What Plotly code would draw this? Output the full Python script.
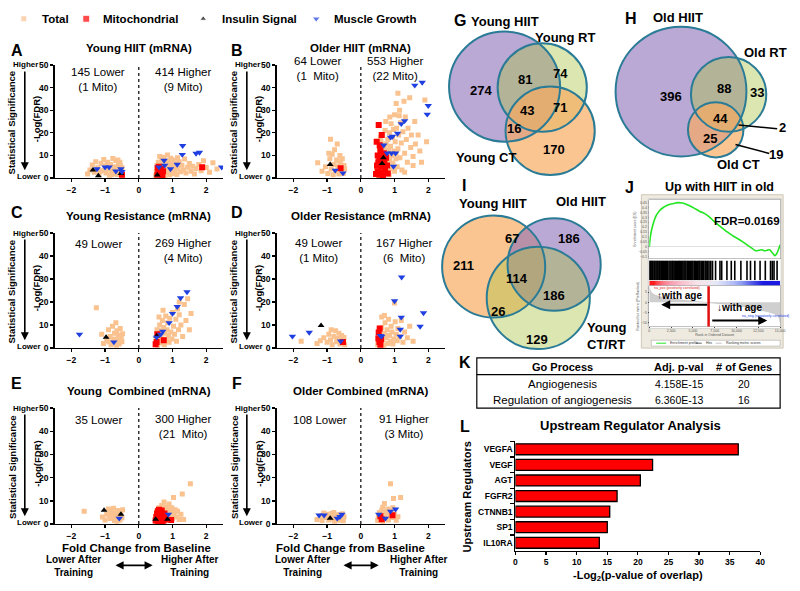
import plotly.graph_objects as go

W, H = 800, 591
FONT = "Liberation Sans, Arial, Helvetica, sans-serif"

# ---------------- scatter data: (fold change, -log FDR) ----------------
A_total = [(-1.52,1.8),(-1.45,3.5),(-1.38,5.8),(-1.32,2.5),(-1.28,7.2),(-1.22,4.5),(-1.18,1.5),(-1.12,6.5),(-1.08,3.2),(-1.04,8.2),
           (-1.0,5.2),(-0.97,2.2),(-0.93,7.0),(-0.9,4.0),(-0.87,1.2),(-0.84,6.0),(-0.8,3.0),(-0.77,8.6),(-0.74,5.0),(-0.71,2.0),
           (-0.68,7.8),(-0.66,4.2),(-0.63,1.6),(-0.6,6.2),(-0.58,3.4),(-0.55,5.5),(-0.52,2.4),(-0.5,4.6),(-0.48,1.2),(-0.62,8.0),
           (-0.95,5.8),(-1.15,3.0),(-0.8,1.5),(-0.7,3.6),(-0.56,7.0),
           (0.5,1.0),(0.52,3.0),(0.54,5.5),(0.56,2.0),(0.58,7.0),(0.6,4.0),(0.62,1.5),(0.64,6.0),(0.66,3.0),(0.68,8.0),
           (0.7,2.2),(0.72,5.0),(0.74,9.2),(0.76,3.5),(0.78,1.2),(0.8,6.5),(0.82,4.5),(0.84,2.5),(0.86,7.5),(0.88,5.5),
           (0.9,3.0),(0.92,1.5),(0.95,6.0),(0.98,4.0),(1.0,8.0),(1.02,2.0),(1.05,5.0),(1.08,3.2),(1.1,6.8),(1.13,1.6),
           (1.16,4.4),(1.2,7.2),(1.24,2.8),(1.28,5.6),(1.32,3.6),(1.36,8.4),(1.4,2.2),(1.45,4.8),(1.5,6.4),(1.55,3.0),
           (1.6,5.2),(1.65,1.8),(1.7,4.2),(1.78,6.0),(1.85,3.2),(1.92,7.6),(2.0,4.6),(2.1,2.6),(2.2,6.8),(2.32,4.0),
           (0.62,9.5),(0.85,10.2),(1.15,9.0),(0.7,6.8),(0.95,8.8)]
A_mito = [(-0.5,1.5),(0.55,1.5),(0.58,3.2),(0.6,5.0),(0.63,2.2),(0.66,4.0),(0.7,1.0),(0.72,3.0),(0.56,4.5),(1.88,4.8)]
A_ins = [(-1.36,3.5),(-1.2,1.0),(-0.53,2.0),(0.55,1.3)]
A_mus = [(-1.24,4.0),(-1.0,4.8),(-0.88,4.8),(-0.68,3.0),(-0.53,4.0),(-0.5,2.8),(0.6,4.8),(0.75,7.8),(0.77,5.6),(0.94,4.0),
         (1.14,6.0),(1.29,10.4),(1.3,14.3),(1.7,10.9),(1.8,11.3),(2.46,4.8)]

B_total = [(-1.28,6.8),(-1.15,3.0),(-1.05,5.0),(-0.98,2.0),(-0.92,8.5),(-0.9,17.2),(-0.88,4.0),(-0.85,10.5),(-0.82,1.5),(-0.8,6.0),
           (-0.78,12.5),(-0.75,3.0),(-0.72,8.0),(-0.7,15.0),(-0.68,5.0),(-0.65,1.8),(-0.62,10.0),(-0.6,6.8),(-0.58,3.5),(-0.55,8.5),
           (-0.52,2.0),(-0.5,5.5),(-0.48,4.0),(-0.95,11.0),(-0.66,7.5),
           (0.45,1.5),(0.48,4),(0.5,7),(0.5,2.5),(0.52,10),(0.54,5),(0.55,13),(0.56,1.2),(0.58,8),(0.6,3.5),
           (0.6,16),(0.62,11),(0.64,6),(0.65,19),(0.66,2),(0.68,9),(0.7,13.5),(0.7,4.5),(0.72,21),(0.74,7),
           (0.75,15),(0.76,2.8),(0.78,10.5),(0.8,17),(0.8,5.5),(0.82,12.5),(0.84,1.5),(0.85,20),(0.86,8),(0.88,14),
           (0.9,4),(0.9,24),(0.92,10),(0.94,18),(0.95,6.5),(0.97,21.5),(0.98,12),(1.0,3),(1.0,28),(1.02,16),
           (1.04,8.5),(1.05,33),(1.06,22),(1.08,5),(1.1,37.5),(1.1,13),(1.12,19),(1.15,30),(1.16,9),(1.18,24.5),
           (1.2,15.5),(1.22,3.5),(1.25,20.5),(1.28,34),(1.3,11),(1.32,27),(1.35,17),(1.38,7),(1.4,22),(1.45,35.5),
           (1.48,13.5),(1.5,19),(1.55,9.5),(1.6,25),(1.62,15),(1.7,19),(1.75,12),(1.8,7),(1.9,34.5),(1.95,16),
           (0.66,14.5),(0.58,18),(0.74,25),(0.86,27),(1.14,27.5),(1.3,2.5),(1.55,5.5),(1.05,11)]
B_mito = [(-0.6,4.3),(0.53,23.5),(0.47,16),(0.5,10),(0.52,7),(0.48,5.5),(0.5,3),(0.55,1.5),(0.58,12),(0.6,8.5),(0.62,5),
          (0.65,2.2),(0.56,14.5),(0.68,11),(0.7,7),(0.72,3.5),(0.75,9),(0.78,5.5),(0.8,2),(0.62,19),(0.55,9),(0.66,1.2),(0.45,1.8)]
B_ins = [(-0.91,6.0),(0.67,9.0),(0.63,6.4)]
B_mus = [(-0.76,3.4),(-0.53,2.2),(1.6,41),(1.82,42.3),(2.0,32),(1.97,28.2),(1.3,25.3),(1.2,24),(1.09,19.7),(0.94,18.4),
         (0.88,18),(1.03,11),(0.91,11),(0.78,11),(0.97,5.1),(0.68,14.5)]

C_total = [(-1.26,17.5),(-1.1,6.0),(-1.05,2.0),(-0.95,3.2),(-0.9,8.0),(-0.85,5.0),(-0.82,1.5),(-0.78,9.5),(-0.75,4.0),(-0.72,6.5),
           (-0.7,2.5),(-0.68,11.0),(-0.65,7.5),(-0.62,3.5),(-0.6,5.5),(-0.58,1.8),(-0.55,8.5),(-0.52,4.5),(-0.5,2.8),(-0.48,6.2),
           (-0.88,2.6),(-0.66,1.2),
           (0.5,2.0),(0.52,4.5),(0.54,8.0),(0.56,1.2),(0.58,6.0),(0.6,3.0),(0.62,10.0),(0.64,5.0),(0.66,2.2),(0.68,7.5),
           (0.7,12.0),(0.72,4.0),(0.74,9.0),(0.76,1.5),(0.78,6.5),(0.8,14.0),(0.82,3.5),(0.84,8.0),(0.86,11.0),(0.88,5.5),
           (0.9,2.5),(0.92,13.0),(0.95,7.0),(0.98,4.0),(1.0,15.5),(1.03,9.5),(1.06,6.0),(1.1,12.5),(1.12,3.0),(1.15,17.0),
           (1.18,8.0),(1.2,14.5),(1.25,10.0),(1.3,5.0),(1.35,19.0),(1.4,12.0),(1.45,21.5),(1.5,8.0),(1.55,15.0),(0.72,16.5),
           (0.6,13.5),(1.2,20.0)]
C_mito = [(0.55,6.0),(0.53,2.6),(0.74,3.4),(0.5,1.7)]
C_ins = [(-0.97,4.7),(0.53,5.3)]
C_mus = [(1.43,24.4),(1.24,21.8),(1.14,18.0),(1.0,15.0),(0.9,11.0),(0.71,7.3),(0.65,6.0),(0.53,4.7),(-1.76,6.0),(-0.74,2.6)]

D_total = [(-1.77,3.0),(-1.3,2.0),(-1.1,4.5),(-1.0,2.5),(-0.95,6.0),(-0.9,3.5),(-0.85,1.5),(-0.8,5.0),(-0.75,7.5),(-0.72,2.8),
           (-0.68,4.2),(-0.65,6.5),(-0.62,1.8),(-0.6,3.8),(-0.57,5.5),(-0.54,2.4),(-0.5,4.6),(-0.48,1.4),(-1.2,3.2),(-0.88,8.0),
           (0.5,1.5),(0.52,4.0),(0.55,7.0),(0.58,2.5),(0.6,5.5),(0.62,9.0),(0.65,3.5),(0.68,1.2),(0.7,6.5),(0.72,11.0),
           (0.75,4.5),(0.78,8.0),(0.8,2.0),(0.82,12.5),(0.85,5.5),(0.88,3.0),(0.9,9.5),(0.92,7.0),(0.95,1.8),(0.98,4.0),
           (1.0,19.6),(1.02,11.5),(1.05,6.0),(1.08,3.2),(1.1,8.5),(1.15,5.0),(1.2,12.0),(1.25,2.5),(1.3,7.0),(1.38,4.5),
           (1.45,9.5),(1.55,3.0),(0.62,13.5),(0.7,14.2)]
D_mito = [(-0.53,2.6),(0.53,6.8),(0.55,2.6),(0.52,4.2),(0.58,1.5),(0.6,3.8),(0.56,8.5)]
D_ins = [(-1.18,9.8)]
D_mus = [(1.21,30.8),(1.0,20.5),(1.2,13.4),(1.86,15.3),(1.76,9.4),(1.17,8.1),(0.62,5.1),(1.17,5.1),(0.58,5.4),
         (-2.03,5.1),(-1.53,6.8),(-0.6,3.0)]

E_total = [(-1.62,5.5),(-1.08,3.0),(-1.0,1.8),(-0.95,4.2),(-0.9,6.5),(-0.86,2.4),(-0.82,5.0),(-0.78,3.4),(-0.75,6.8),(-0.72,1.5),
           (-0.7,4.6),(-0.66,2.8),(-0.62,5.8),(-0.6,3.8),(-0.56,1.6),(-0.53,4.8),(-0.5,2.6),(-0.48,6.2),(-0.85,3.8),(-0.65,1.2),
           (0.5,1.2),(0.52,3.5),(0.54,6.0),(0.56,2.2),(0.58,4.5),(0.6,7.0),(0.62,1.5),(0.64,3.0),(0.66,5.5),(0.68,8.0),
           (0.7,2.5),(0.72,4.2),(0.74,6.5),(0.76,1.8),(0.78,3.5),(0.8,5.8),(0.82,7.5),(0.84,2.8),(0.86,4.8),(0.88,6.8),
           (0.9,1.6),(0.92,3.8),(0.95,5.2),(0.98,7.0),(1.0,2.5),(1.03,11.4),(1.05,4.5),(1.08,6.2),(1.12,3.0),(1.15,5.5),
           (1.2,2.0),(1.29,13.0),(1.33,2.0),(1.53,17.4),(1.25,4.2),(0.75,9.5),(0.9,8.6)]
E_mito = [(0.5,1.5),(0.52,3.0),(0.54,4.5),(0.55,2.2),(0.57,5.5),(0.58,1.2),(0.6,3.6),(0.62,2.5),(0.63,4.8),(0.65,1.6),
          (0.66,3.2),(0.68,5.8),(0.7,2.4),(0.71,4.0),(0.73,1.4),(0.74,3.0),(0.76,4.6),(0.78,2.0),(0.6,6.2),(0.68,0.9),(0.96,1.7)]
E_ins = [(-1.03,5.9),(-0.53,4.2),(0.5,2.1),(0.85,2.1)]
E_mus = [(-0.58,2.5),(0.88,4.2)]

F_total = [(-1.3,2.0),(-1.2,3.5),(-1.15,1.5),(-1.05,2.8),(-1.0,4.2),(-0.95,1.8),(-0.9,3.2),(-0.86,4.5),(-0.82,2.2),(-0.78,1.2),
           (-0.75,3.6),(-0.72,2.6),(-0.68,4.0),(-0.65,1.6),(-0.62,3.0),(-0.58,2.0),(-0.55,4.4),(-0.52,1.4),(-0.5,3.2),(-1.1,4.8),
           (-0.8,5.0),
           (0.5,1.5),(0.52,3.0),(0.55,5.0),(0.58,2.2),(0.6,4.0),(0.62,6.0),(0.65,1.2),(0.68,3.5),(0.7,8.9),(0.72,5.2),
           (0.75,2.5),(0.78,4.5),(0.8,6.5),(0.82,1.8),(0.85,3.8),(0.88,17.4),(0.9,5.5),(0.93,2.8),(0.97,11.0),(1.0,4.2),
           (1.05,1.6),(1.1,3.2),(1.18,11.4),(0.65,7.2),(0.95,7.0)]
F_mito = [(0.58,3.4),(0.94,3.8),(0.62,2.1)]
F_ins = [(-0.91,2.5)]
F_mus = [(-1.24,3.8),(-1.09,3.8),(-0.7,2.5),(-0.56,4.2),(-0.62,3.2),(0.53,4.2),(0.88,5.5),(1.03,6.4),(0.73,2.5)]

panel_titles = ["Young HIIT (mRNA)", "Older HIIT (mRNA)", "Young Resistance (mRNA)",
                "Older Resistance (mRNA)", "Young\u00a0 Combined (mRNA)", "Older Combined (mRNA)"]
lower_texts = ["145 Lower<br>(1 Mito)", "64 Lower<br>(1\u00a0 Mito)", "49 Lower", "49 Lower<br>(1 Mito)", "35 Lower", "108 Lower"]
higher_texts = ["414 Higher<br>(9 Mito)", "553 Higher<br>(22 Mito)", "269 Higher<br>(4 Mito)", "167 Higher<br>(6\u00a0 Mito)",
                "300 Higher<br>(21\u00a0 Mito)", "91 Higher<br>(3 Mito)"]
series_names = ["Total", "Mitochondrial", "Insulin Signal", "Muscle Growth"]

# ---------------- venn data ----------------
G_labels = ["Young HIIT", "Young RT", "Young CT"]
G_counts = [274, 81, 74, 43, 71, 16, 170]
H_labels = ["Old HIIT", "Old RT", "Old CT"]
H_counts = [396, 88, 33, 44, 25, 2, 19]
I_labels = ["Young HIIT", "Old HIIT", "Young<br>CT/RT"]
I_counts = [211, 67, 186, 114, 186, 26, 129]

# ---------------- GSEA data ----------------
J_es_rank = [0,150,400,800,1200,1600,2000,2500,3000,3300,3800,4300,4800,5300,5800,6300,6800,7300,7800,8300,
             8800,9300,9800,10300,10800,11300,11800,12200,12600,12900,13200,13500,13800,14000,14200,14400,14600,14800,15000]
J_es = [0,0.12,0.22,0.32,0.37,0.40,0.42,0.435,0.445,0.45,0.445,0.43,0.41,0.385,0.36,0.34,0.31,0.27,0.23,0.195,
        0.16,0.13,0.10,0.075,0.045,0.015,-0.015,-0.04,-0.035,-0.03,-0.04,-0.035,-0.03,-0.05,-0.07,-0.09,-0.07,-0.03,0.02]
J_hits = [40,120,210,330,420,560,650,780,900,1010,1150,1240,1380,1500,1610,1750,1880,1990,2100,2260,2380,2500,2640,
          2720,2850,2990,3100,3230,3380,3460,3590,3720,3850,3980,4090,4200,4350,4480,4600,4760,4880,5000,5150,5270,
          5400,5560,5690,5800,5950,6100,6230,6400,6520,6700,6850,7050,7250,7600,8100,8300,8900,9400,9800,10500,
          11200,11600,12100,12700,13300,13900,14100,14300,14650]
J_rank_pts = [0,100,300,700,1500,2500,3500,4500,5500,6300,6800,7500,8500,9500,10500,11500,12500,13500,14200,14700,14900,15000]
J_metric = [8,6,4.5,3.5,2.5,1.8,1.2,0.8,0.4,0.15,0,-0.3,-0.8,-1.3,-2,-2.8,-3.6,-4.6,-5.5,-6.5,-8,-10]
J_zero_cross = 6800

# ---------------- table data ----------------
K_header = ["Go Process", "Adj. p-val", "# of Genes"]
K_rows = [["Angiogenesis", "4.158E-15", "20"], ["Regulation of angiogenesis", "6.360E-13", "16"]]

# ---------------- upstream regulators ----------------
L_regulators = ["VEGFA", "VEGF", "AGT", "FGFR2", "CTNNB1", "SP1", "IL10RA"]
L_values = [36.4, 22.4, 20.4, 16.6, 15.4, 15.0, 13.7]

# =====================================================================
def X(px): return px / W
def Y(py): return 1 - py / H

fig = go.Figure()
layout = {}
annotations = []
shapes = []

def ann(text, x, y, size=11, bold=False, xanchor='center', yanchor='middle', angle=0, color='black', align='center'):
    if bold:
        text = "<b>" + text.replace("<br>", "</b><br><b>") + "</b>"
    annotations.append(dict(text=text, x=x, y=y, xref='x7', yref='y7', showarrow=False, xanchor=xanchor,
                            yanchor=yanchor, textangle=angle, align=align,
                            font=dict(family=FONT, size=size, color=color)))

def arrow(x, y, ax, ay, width=1.5, head=2, side='end', size=1.0, color='black'):
    annotations.append(dict(text='', x=x, y=y, ax=ax, ay=ay, xref='x7', yref='y7', axref='x7', ayref='y7',
                            showarrow=True, arrowhead=head, arrowsize=size, arrowwidth=width, arrowcolor=color,
                            arrowside=side, startarrowhead=head, startarrowsize=size, standoff=0, startstandoff=0))

def rect(x0, y0, x1, y1, fill='rgba(0,0,0,0)', line='black', lw=1, layer='below'):
    shapes.append(dict(type='rect', xref='paper', yref='paper', x0=X(x0), x1=X(x1), y0=Y(y1), y1=Y(y0),
                       fillcolor=fill, line=dict(color=line, width=lw), layer=layer))

def seg(x0, y0, x1, y1, color='black', lw=1.5, layer='above'):
    shapes.append(dict(type='line', xref='paper', yref='paper', x0=X(x0), x1=X(x1), y0=Y(y0), y1=Y(y1),
                       line=dict(color=color, width=lw), layer=layer))

def circle(cx, cy, r, fill=None, line=None, lw=2):
    shapes.append(dict(type='circle', xref='paper', yref='paper', x0=X(cx - r), x1=X(cx + r), y0=Y(cy + r),
                       y1=Y(cy - r), fillcolor=fill if fill else 'rgba(0,0,0,0)',
                       line=dict(color=line if line else 'rgba(0,0,0,0)', width=lw if line else 0), layer='below'))

# canvas axis (pixel coordinates)
layout['xaxis7'] = dict(domain=[0, 1], range=[0, W], visible=False, fixedrange=True, anchor='y7')
layout['yaxis7'] = dict(domain=[0, 1], range=[H, 0], visible=False, fixedrange=True, anchor='x7')

# ---------------- legend ----------------
leg_x = [22, 85, 203, 317]
leg_txt_x = [38, 100, 220, 333]
fig.add_trace(go.Scatter(x=leg_x, y=[14, 14, 14, 14], mode='markers', xaxis='x7', yaxis='y7', showlegend=False,
                         hoverinfo='skip',
                         marker=dict(symbol=['square', 'square', 'triangle-up', 'triangle-down'],
                                     color=['#f9c28f', '#ff0000', '#000000', '#1f3fe0'], size=[6, 7, 6, 7])))
for nm, tx in zip(series_names, leg_txt_x):
    ann(nm, tx, 14, size=11.5, bold=True, xanchor='left')

# ---------------- scatter panels ----------------
letters = ["A", "B", "C", "D", "E", "F"]
col_px = [(53, 223), (277, 447)]
row_px = [(61, 176), (232, 349), (410, 528)]
title_y = [44, 215, 393]
count_y = [(76, 76), (65, 65), (243, 250), (250, 250), (422, 429), (422, 429)]
lower_xc = [-1.2, -1.3, -1.2, -1.25, -1.2, -1.2]
higher_xc = [1.3, 1.0, 1.3, 1.27, 1.3, 1.27]
styles = [dict(symbol='square', color='#f9c28f', size=5),
          dict(symbol='square', color='#ff0000', size=6),
          dict(symbol='triangle-up', color='#000000', size=6),
          dict(symbol='triangle-down', color='#1f3fe0', size=6.5)]
panel_series = [(A_total, A_mito, A_ins, A_mus), (B_total, B_mito, B_ins, B_mus), (C_total, C_mito, C_ins, C_mus),
                (D_total, D_mito, D_ins, D_mus), (E_total, E_mito, E_ins, E_mus), (F_total, F_mito, F_ins, F_mus)]

for p in range(6):
    i = p + 1
    c, r = p % 2, p // 2
    (x0, x1), (top, bot) = col_px[c], row_px[r]
    xa = 'xaxis' if i == 1 else f'xaxis{i}'
    ya = 'yaxis' if i == 1 else f'yaxis{i}'
    xr = 'x' if i == 1 else f'x{i}'
    yr = 'y' if i == 1 else f'y{i}'
    tickfont = dict(family=FONT, size=8.5, color='black', weight='bold')
    layout[xa] = dict(domain=[X(x0), X(x1)], range=[-2.5, 2.5], anchor=yr, showline=True, linecolor='black',
                      linewidth=1.3, ticks='outside', ticklen=3, tickwidth=1.3, tickcolor='black',
                      tickvals=[-2, -1, 0, 1, 2], tickfont=tickfont, showgrid=False, zeroline=False, fixedrange=True)
    layout[ya] = dict(domain=[Y(bot), Y(top)], range=[0, 50], anchor=xr, showline=True, linecolor='black',
                      linewidth=1.3, ticks='outside', ticklen=3, tickwidth=1.3, tickcolor='black',
                      tickvals=[0, 10, 20, 30, 40, 50], tickfont=tickfont, showgrid=False, zeroline=False,
                      fixedrange=True)
    for s, pts in enumerate(panel_series[p]):
        fig.add_trace(go.Scatter(x=[q[0] for q in pts], y=[q[1] for q in pts], mode='markers', xaxis=xr, yaxis=yr,
                                 name=series_names[s], showlegend=False, marker=dict(**styles[s], line=dict(width=0))))
    shapes.append(dict(type='line', xref=xr, yref=yr, x0=0, x1=0, y0=0, y1=50,
                       line=dict(color='black', width=1.2, dash='dot')))
    cx_off = 0 if c == 0 else 224
    xmid = (x0 + x1) / 2
    ann(panel_titles[p], xmid, title_y[r], size=11.5, bold=True)
    ann(letters[p], [15, 237][c], title_y[r] + [2, -4, -8][r], size=16, bold=True)
    def dpx(v): return x0 + (v + 2.5) / 5 * (x1 - x0)
    ann(lower_texts[p], dpx(lower_xc[p]), count_y[p][0], size=11.5)
    ann(higher_texts[p], dpx(higher_xc[p]), count_y[p][1], size=11.5)
    ann("Higher", cx_off + 24, top, size=8, bold=True)
    ann("Lower", cx_off + 27, bot - 2, size=8, bold=True)
    arrow(cx_off + 23, bot - 8, cx_off + 23, top + 5, width=1.6, head=2, size=1.0)
    ann("Statistical Significance", cx_off + 10, (top + bot) / 2 + 1, size=9.5, bold=True, angle=-90)
    ann("-Log(FDR)", cx_off + 35, (top + bot) / 2 - 2, size=9.5, bold=True, angle=-90)

# bottom captions
for cxm, lowc, highc, a0, a1 in [(136, 72, 190, 113, 152), (352, 303, 421, 343, 380)]:
    ann("Fold Change from Baseline", cxm, 552, size=11.5, bold=True)
    ann("Lower After<br>Training", lowc, 571, size=10, bold=True)
    ann("Higher After<br>Training", highc, 571, size=10, bold=True)
    arrow(a1, 570, a0, 570, width=1.8, head=2, side='end+start', size=0.9)

# ---------------- Venn diagrams ----------------
OUT = '#2a7b96'
PUR = 'rgba(140,110,185,0.6)'
GRN = 'rgba(170,195,70,0.42)'
ORA = 'rgba(249,170,95,0.68)'
G_circ = [(507, 83, 56), (545, 84, 45), (553, 128, 45)]
for (cx, cy, rr), col in zip(G_circ, [PUR, GRN, ORA]):
    circle(cx, cy, rr, fill=col)
for cx, cy, rr in G_circ:
    circle(cx, cy, rr, line=OUT, lw=2)
for v, (tx, ty) in zip(G_counts, [(483, 87), (528, 76), (563, 70), (530, 107), (563, 104), (517, 126), (557, 147)]):
    ann(str(v), tx, ty, size=13, bold=True)
ann("G", 462, 16, size=16, bold=True)
ann(G_labels[0], 507, 17, size=13, bold=True)
ann(G_labels[1], 568, 33, size=13, bold=True)
ann(G_labels[2], 488, 155, size=13, bold=True)
H_circ = [(685, 88, 66), (733, 91, 38), (720, 127, 28)]
for (cx, cy, rr), col in zip(H_circ, [PUR, GRN, ORA]):
    circle(cx, cy, rr, fill=col)
for cx, cy, rr in H_circ:
    circle(cx, cy, rr, line=OUT, lw=2)
for v, (tx, ty) in zip(H_counts, [(675, 93), (728, 85), (762, 89), (725, 115), (714, 136), (787, 125), (781, 152)]):
    ann(str(v), tx, ty, size=13, bold=True)
seg(743, 122, 782, 126)
seg(740, 142, 774, 151)
ann("H", 635, 14, size=16, bold=True)
ann(H_labels[0], 682, 13, size=13, bold=True)
ann(H_labels[1], 770, 48, size=13, bold=True)
ann(H_labels[2], 743, 162, size=13, bold=True)
I_circ = [(496, 266, 52), (557, 264, 47), (541, 298, 52)]
for (cx, cy, rr), col in zip(I_circ, [ORA, PUR, GRN]):
    circle(cx, cy, rr, fill=col)
for cx, cy, rr in I_circ:
    circle(cx, cy, rr, line=OUT, lw=2)
for v, (tx, ty) in zip(I_counts, [(466, 265), (515, 238), (572, 238), (520, 278), (557, 296), (500, 312), (540, 340)]):
    ann(str(v), tx, ty, size=13, bold=True)
ann("I", 466, 184, size=16, bold=True)
ann(I_labels[0], 495, 202, size=13, bold=True)
ann(I_labels[1], 584, 200, size=13, bold=True)
ann(I_labels[2], 588, 337, size=13, bold=True, xanchor='left', align='left')

# ---------------- GSEA panel J ----------------
ann("J", 633, 186, size=16, bold=True)
ann("Up with HIIT in old", 724, 185, size=12.5, bold=True)
rect(645, 193, 788, 349, fill='#efeadf', line='#cfc8b8', lw=1)
rect(652, 197, 786, 329, fill='white', line='#bdbdbd', lw=0.6)
tiny = dict(family=FONT, size=3.5, color='#555555')
jx = [X(653), X(785)]
layout['xaxis8'] = dict(domain=jx, range=[0, 15000], anchor='y8', showticklabels=False, ticks='', showgrid=False,
                        zeroline=False, showline=True, mirror=True, linecolor='#999999', linewidth=0.6, fixedrange=True)
layout['yaxis8'] = dict(domain=[Y(258), Y(198)], range=[-0.12, 0.48], anchor='x8', tickfont=tiny, dtick=0.05,
                        ticks='outside', ticklen=1, tickcolor='#999', showgrid=False, zeroline=True,
                        zerolinecolor='#cccccc', zerolinewidth=0.6, showline=True, mirror=True, linecolor='#999999',
                        linewidth=0.6, fixedrange=True, title=dict(text='Enrichment score (ES)', font=tiny, standoff=1))
fig.add_trace(go.Scatter(x=J_es_rank, y=J_es, mode='lines', line=dict(color='#22e622', width=1.6, shape='spline'),
                         xaxis='x8', yaxis='y8', showlegend=False, hoverinfo='skip'))
bx, by = [], []
for hpos in J_hits:
    bx += [hpos, hpos, None]
    by += [0, 1, None]
layout['xaxis9'] = dict(domain=jx, range=[0, 15000], anchor='y9', visible=False, fixedrange=True)
layout['yaxis9'] = dict(domain=[Y(280), Y(260)], range=[0, 1], anchor='x9', visible=False, fixedrange=True)
fig.add_trace(go.Scatter(x=bx, y=by, mode='lines', line=dict(color='black', width=1.6), xaxis='x9', yaxis='y9',
                         showlegend=False, hoverinfo='skip'))
layout['xaxis10'] = dict(domain=jx, range=[0, 15000], anchor='y10', visible=False, fixedrange=True)
layout['yaxis10'] = dict(domain=[Y(285.5), Y(280.5)], anchor='x10', visible=False, fixedrange=True)
fig.add_trace(go.Heatmap(x=J_rank_pts, y=[0], z=[J_metric], zmin=-4, zmax=4, zsmooth='best', showscale=False,
                         colorscale=[[0, '#1a1ae0'], [0.25, '#8c9cf0'], [0.45, '#e6e8f8'], [0.55, '#f8e4ea'],
                                     [0.75, '#f898ac'], [1, '#ff1a1a']],
                         xaxis='x10', yaxis='y10', hoverinfo='skip'))
layout['xaxis11'] = dict(domain=jx, range=[0, 15000], anchor='y11', tickvals=[0, 2500, 5000, 7500, 10000, 12500, 15000],
                         ticktext=['0', '2,500', '5,000', '7,500', '10,000', '12,500', '15,000'], tickfont=tiny,
                         ticks='outside', ticklen=1, showgrid=False, zeroline=False, showline=True, mirror=True,
                         linecolor='#999999', linewidth=0.6, fixedrange=True,
                         title=dict(text='Rank in Ordered Dataset', font=tiny, standoff=1))
layout['yaxis11'] = dict(domain=[Y(327), Y(286)], range=[-12, 8], anchor='x11', tickvals=[-10, -5, 0, 5],
                         tickfont=tiny, ticks='outside', ticklen=1, showgrid=False, zeroline=False, showline=True,
                         mirror=True, linecolor='#999999', linewidth=0.6, fixedrange=True,
                         title=dict(text='Ranked list metric (PreRanked)', font=tiny, standoff=1))
fig.add_trace(go.Scatter(x=J_rank_pts, y=J_metric, mode='lines', fill='tozeroy', line=dict(color='#b8b8b8', width=0.5),
                         fillcolor='#cfcfcf', xaxis='x11', yaxis='y11', showlegend=False, hoverinfo='skip'))
shapes.append(dict(type='line', xref='x11', yref='y11 domain', x0=J_zero_cross, x1=J_zero_cross, y0=0, y1=1,
                   line=dict(color='#e01010', width=2.5), layer='above'))
ann("FDR=0.0169", 752, 220, size=11.5, bold=True)
ann("\u2191with age", 683, 296, size=10, bold=True)
arrow(665, 305, 713, 305, width=2, head=2, size=0.9)
ann("\u2193with age", 744, 308, size=10, bold=True)
arrow(772, 321, 715, 321, width=2, head=2, size=0.9)
ann("na_pos (positively correlated)", 656, 287.5, size=3.5, color='#e02020', xanchor='left')
ann("na_neg (negatively correlated)", 745, 316, size=3.5, color='#2040e0', xanchor='left')
rect(655, 341, 785, 347, fill='white', line='#999999', lw=0.5)
seg(660, 344, 670, 344, color='#22e622', lw=1)
ann("Enrichment profile", 672, 344, size=3.5, xanchor='left', color='#333')
seg(700, 344, 706, 344, color='#000', lw=0.6)
ann("Hits", 708, 344, size=3.5, xanchor='left', color='#333')
seg(720, 344, 726, 344, color='#999', lw=0.6)
ann("Ranking metric scores", 728, 344, size=3.5, xanchor='left', color='#333')

# ---------------- table K ----------------
ann("K", 467, 364, size=16, bold=True)
rect(479, 359, 785, 410, fill='white', line='black', lw=1.2, layer='above')
seg(479, 376, 785, 376, lw=1.2)
col_cx = [565, 683, 749]
for txt, cxp in zip(K_header, col_cx):
    ann(txt, cxp, 368, size=11, bold=True)
for row, ry in zip(K_rows, [386, 402]):
    for k, (txt, cxp) in enumerate(zip(row, col_cx)):
        ann(txt, cxp, ry, size=11.5 if k == 0 else 10.5)

# ---------------- bar chart L ----------------
ann("L", 467, 429, size=16, bold=True)
ann("Upstream Regulator Analysis", 634, 428, size=13, bold=True)
layout['xaxis12'] = dict(domain=[X(518), X(765)], range=[0, 40], anchor='y12', dtick=5, ticks='outside', ticklen=3,
                         tickwidth=1.2, tickcolor='black', showline=True, linecolor='black', linewidth=1.2,
                         tickfont=dict(family=FONT, size=8.5, color='black', weight='bold'), showgrid=False,
                         zeroline=False, fixedrange=True)
layout['yaxis12'] = dict(domain=[Y(555), Y(444)], anchor='x12', type='category', categoryorder='array',
                         categoryarray=L_regulators, range=[6.5, -0.5], ticks='outside', ticklen=4, tickwidth=1.2,
                         tickcolor='black', tickson='boundaries', showline=True, linecolor='black', linewidth=1.2,
                         tickfont=dict(family=FONT, size=8.5, color='black', weight='bold'), showgrid=False,
                         fixedrange=True)
fig.add_trace(go.Bar(x=L_values, y=L_regulators, orientation='h', xaxis='x12', yaxis='y12', width=0.7,
                     marker=dict(color='#ff0000', line=dict(color='black', width=1.3)), showlegend=False))
ann("-Log<sub>2</sub>(p-value of overlap)", 642, 581, size=11, bold=True)
ann("Upstream Regulators", 469, 500, size=11, bold=True, angle=-90)

layout.update(dict(width=W, height=H, margin=dict(l=0, r=0, t=0, b=0), paper_bgcolor='white',
                   plot_bgcolor='rgba(0,0,0,0)', showlegend=False, annotations=annotations, shapes=shapes,
                   font=dict(family=FONT, color='black'), bargap=0.3))
fig.update_layout(**layout)
fig.write_html("out.html", config={'displayModeBar': False, 'staticPlot': True},
               post_script="document.body.style.margin='0';document.body.style.overflow='hidden';")
